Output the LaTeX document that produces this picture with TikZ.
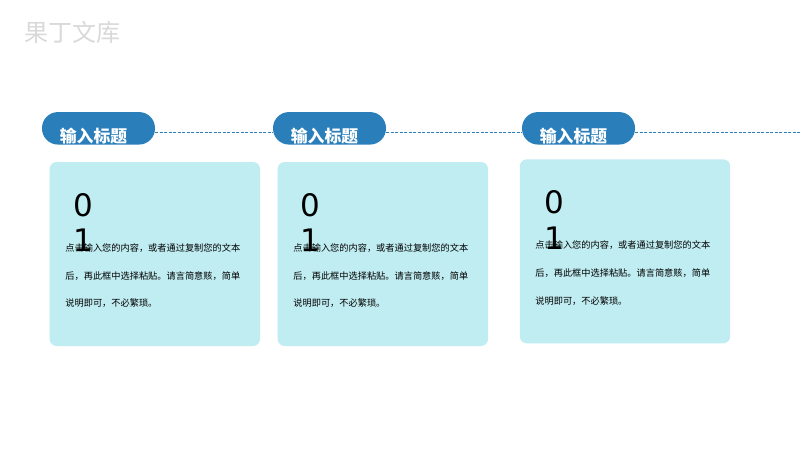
\documentclass[tikz,border=0pt]{standalone}
\usepackage{fontspec}
\setmainfont{Noto Sans CJK SC}
\newfontfamily\digitfont{DejaVu Sans}
\definecolor{pillblue}{HTML}{2A7FBA}
\definecolor{cardcyan}{HTML}{C0EDF2}
\definecolor{markgrey}{HTML}{D9D9D9}
\tikzset{
  pill/.style={fill=pillblue,draw=none,rounded corners=16pt,minimum width=113pt,minimum height=32.5pt,inner sep=0pt,outer sep=0pt},
  card/.style={fill=cardcyan,draw=none,rounded corners=7pt,minimum width=210.4pt,minimum height=184pt,inner sep=0pt},
  heading/.style={text=white,font=\fontsize{16.8pt}{17pt}\selectfont\bfseries,inner sep=0pt},
  numeral/.style={text=black,font=\digitfont\fontsize{31pt}{31pt}\selectfont,inner sep=0pt},
  bodyline/.style={text=black,anchor=west,font=\fontsize{9.2pt}{10pt}\selectfont,inner sep=0pt},
  link/.style={draw=pillblue,line width=1pt,dash pattern=on 3pt off 1.5pt}
}
\newcommand{\panel}[6]{% id, pill cx, card cx, card cy, digit cx, body x
  \node[pill] (p#1) at (#2,128.3) {};
  \node[heading] (h#1) at (#2-5,136) {输入标题};
  \node[card] (c#1) at (#3,#4) {};
  \node[numeral] (za#1) at (#5,#4-49) {0};
  \node[numeral] (zb#1) at (#5,#4-13.5) {1};
  \node[bodyline] (la#1) at (#6,#4-6.2) {点击输入您的内容，或者通过复制您的文本};
  \node[bodyline] (lb#1) at (#6,#4+21.6) {后，再此框中选择粘贴。请言简意赅，简单};
  \node[bodyline] (lc#1) at (#6,#4+49.4) {说明即可，不必繁琐。};
}
\begin{document}
\begin{tikzpicture}[x=1pt,y=-1pt]
\useasboundingbox[fill=white] (0,0) rectangle (800,450);
\node[text=markgrey,font=\fontsize{24pt}{24pt}\selectfont,inner sep=0pt] (mark) at (72,32) {果丁文库};
\panel{1}{98.5}{154.8}{254}{83.7}{65.2}
\panel{2}{329.5}{382.8}{254}{310.7}{293.2}
\panel{3}{578.5}{625}{251.3}{554.7}{535.2}
\coordinate (lineend) at (800,132.3);
\draw[link] (p1.east |- lineend) -- (p2.west |- lineend);
\draw[link] (p2.east |- lineend) -- (p3.west |- lineend);
\draw[link] (p3.east |- lineend) -- (lineend);
\end{tikzpicture}
\end{document}
